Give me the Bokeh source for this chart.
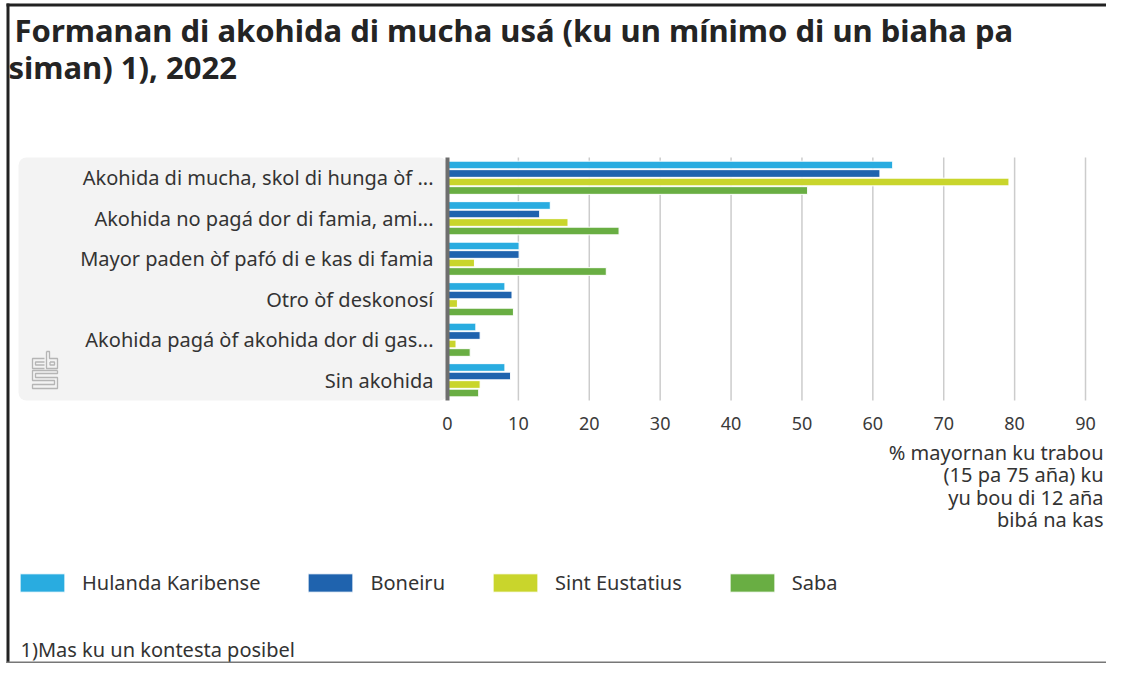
from bokeh.plotting import figure
from bokeh.models import (ColumnDataSource, Label, BoxAnnotation, Legend, LegendItem,
                          FixedTicker, Range1d, LinearAxis)
from bokeh.transform import dodge
from bokeh.embed import file_html
from bokeh.resources import INLINE

categories = [
    "Akohida di mucha, skol di hunga òf ...",
    "Akohida no pagá dor di famia, ami...",
    "Mayor paden òf pafó di e kas di famia",
    "Otro òf deskonosí",
    "Akohida pagá òf akohida dor di gas...",
    "Sin akohida",
]
series = ["Hulanda Karibense", "Boneiru", "Sint Eustatius", "Saba"]
hulanda = [62.8, 14.5, 10.1, 8.1, 4.0, 8.1]
boneiru = [61.0, 13.0, 10.1, 9.1, 4.6, 8.9]
eustatius = [79.2, 17.0, 3.8, 1.4, 1.2, 4.6]
saba = [50.8, 24.2, 22.4, 9.3, 3.2, 4.4]
xticks = [0, 10, 20, 30, 40, 50, 60, 70, 80, 90]

title_line1 = " Formanan di akohida di mucha usá (ku un mínimo di un biaha pa"
title_line2 = "siman) 1), 2022"
x_label_lines = ["% mayornan ku trabou", "(15 pa 75 aña) ku", "yu bou di 12 aña", "bibá na kas"]
footnote = "1)Mas ku un kontesta posibel"

colors = ["#29ace0", "#1f63ae", "#c9d52c", "#69ae43"]
offsets = [0.315, 0.105, -0.105, -0.315]
FONT = "Noto Sans"

W, H = 1106, 663
X0 = 447           # pixel of value 0
PXX = 7.089        # pixels per percent
YB = 400           # pixel of chart bottom
PXY = 40.5         # pixels per category slot
n = len(categories)

def sy(py):  # screen y (from bottom) for a pixel row measured from top
    return H - py

def dx(px):  # data x for a pixel column (decorations only)
    return (px - X0) / PXX

def dy(py):  # data y for a pixel row (decorations only)
    return -0.5 + (YB - py) / PXY

pos = [n - 1 - i for i in range(n)]   # category centres: first on top
src = {"pos": pos}
for key, vals in zip(["hk", "bo", "se", "sa"], [hulanda, boneiru, eustatius, saba]):
    src[key] = vals
source = ColumnDataSource(src)

p = figure(
    width=W, height=H,
    x_range=Range1d(dx(0), dx(W)),
    y_range=Range1d(dy(H), dy(0)),
    output_backend="svg", toolbar_location=None, title=None,
    min_border=0, x_axis_type=None, y_axis_type=None,
)
p.outline_line_color = None
p.background_fill_color = "white"
p.border_fill_color = "white"
p.xgrid.visible = False
p.ygrid.visible = False

# gray panel behind categories
p.add_layout(BoxAnnotation(left=18, right=X0, bottom=sy(400), top=sy(157),
                           left_units="screen", right_units="screen",
                           top_units="screen", bottom_units="screen",
                           fill_color="#f3f3f3", fill_alpha=1, line_color=None,
                           border_radius=8, level="underlay"))

# cbs logo (decoration)
logo_paths = [
    [(44, 358), (32, 358), (32, 368), (44, 368)],
    [(44, 361.5), (35, 361.5), (35, 364.5), (44, 364.5)],
    [(46, 351), (46, 368), (57, 368), (57, 358), (49, 358), (49, 351), (46, 351)],
    [(49.5, 361.5), (54, 361.5), (54, 364.5), (49.5, 364.5), (49.5, 361.5)],
    [(57, 370), (32, 370), (32, 380), (54, 380), (54, 384), (32, 384), (32, 388),
     (57, 388), (57, 377), (35, 377), (35, 373), (57, 373), (57, 370)],
]
p.multi_line(xs=[[dx(a) for a, b in path] for path in logo_paths],
             ys=[[dy(b) for a, b in path] for path in logo_paths],
             line_color="#b5b5b5", line_width=1.3)

# vertical grid lines from the tick values
p.segment(x0=xticks[1:], x1=xticks[1:], y0=-0.5, y1=n - 0.5,
          line_color="#cccccc", line_width=1.5)

renderers = []
for key, col, off in zip(["hk", "bo", "se", "sa"], colors, offsets):
    r = p.hbar(y=dodge("pos", off), right=key, left=0, height=0.19,
               source=source, fill_color=col, line_color="white", line_width=1)
    renderers.append(r)

xaxis = LinearAxis(fixed_location=-0.5, bounds=(0, 90))
xaxis.ticker = FixedTicker(ticks=xticks)
xaxis.axis_line_color = None
xaxis.major_tick_line_color = None
xaxis.minor_tick_line_color = None
xaxis.major_label_text_font = FONT
xaxis.major_label_text_font_size = "18px"
xaxis.major_label_text_color = "#3a3a3a"
xaxis.major_label_standoff = 10
p.add_layout(xaxis, "below")

yaxis = LinearAxis(fixed_location=0, bounds=(-0.5, n - 0.5))
yaxis.ticker = FixedTicker(ticks=pos)
yaxis.major_label_overrides = {pp: c for pp, c in zip(pos, categories)}
yaxis.axis_line_color = "#6e6e6e"
yaxis.axis_line_width = 4
yaxis.major_tick_line_color = None
yaxis.minor_tick_line_color = None
yaxis.major_label_text_font = FONT
yaxis.major_label_text_font_size = "20px"
yaxis.major_label_text_color = "#333333"
yaxis.major_label_standoff = 8
p.add_layout(yaxis, "left")

legend = Legend(
    items=[LegendItem(label=s, renderers=[r]) for s, r in zip(series, renderers)],
    location=(14, sy(596)), orientation="horizontal",
    glyph_width=56, glyph_height=23, label_standoff=12, spacing=42,
    padding=0, margin=0, border_line_color=None, background_fill_alpha=0,
    label_text_font=FONT, label_text_font_size="20px", label_text_color="#333333",
)
p.add_layout(legend, "center")

p.add_layout(Label(x=14, y=sy(8), x_units="screen", y_units="screen", text=title_line1,
                   text_font=FONT, text_font_size="31px", text_font_style="bold",
                   text_color="#242424", text_baseline="top"))
p.add_layout(Label(x=8, y=sy(45), x_units="screen", y_units="screen", text=title_line2,
                   text_font=FONT, text_font_size="31px", text_font_style="bold",
                   text_color="#242424", text_baseline="top"))
for i, line in enumerate(x_label_lines):
    p.add_layout(Label(x=1103, y=sy(452 + 22.3 * i), x_units="screen", y_units="screen",
                       text=line, text_font=FONT, text_font_size="20px",
                       text_color="#333333", text_align="right", text_baseline="middle"))
p.add_layout(Label(x=20, y=sy(649), x_units="screen", y_units="screen", text=footnote,
                   text_font=FONT, text_font_size="20px", text_color="#333333",
                   text_baseline="middle"))

# page frame lines
for l, r_, b, t, c in [(6, 9, 0, sy(3), "#222222"), (6, W, sy(6), sy(3), "#222222"),
                       (6, W, 0, 2, "#777777")]:
    p.add_layout(BoxAnnotation(left=l, right=r_, bottom=b, top=t,
                               left_units="screen", right_units="screen",
                               top_units="screen", bottom_units="screen",
                               fill_color=c, fill_alpha=1, line_color=None))

open("out.html", "w").write(file_html(p, INLINE))
